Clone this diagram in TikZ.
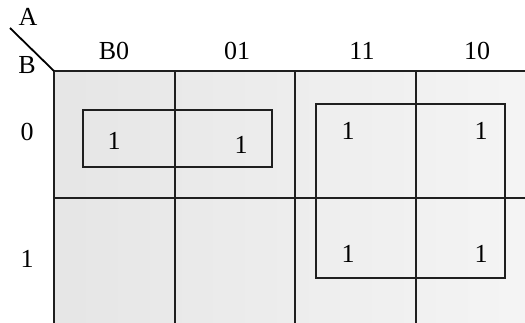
\documentclass[tikz,border=0pt]{standalone}
\usepackage{fontspec}
\setmainfont{Liberation Serif}
\begin{document}
\begin{tikzpicture}[x=1pt,y=-1pt,
  lbl/.style={inner sep=0pt,font=\fontsize{26}{29}\selectfont},
  gridline/.style={line width=2.2pt,black!88},
  grp/.style={line width=2.2pt,black!88}]
\clip (0,0) rectangle (525,322);
\useasboundingbox (0,0) rectangle (525,322);
\fill[white] (0,0) rectangle (525,322);
\shade[left color=black!10,right color=black!4] (54,71) rectangle (540,330);
% grid
\draw[gridline] (54,71) -- (540,71);
\draw[gridline] (54,198) -- (540,198);
\draw[gridline] (54,71) -- (54,330);
\draw[gridline] (175,71) -- (175,330);
\draw[gridline] (295,71) -- (295,330);
\draw[gridline] (416,71) -- (416,330);
% corner diagonal
\coordinate (d1) at (10,28);
\coordinate (d2) at (54,71);
\draw[line width=1.8pt] (d1) -- (d2);
\node[lbl] (A) at (28,17) {A};
\node[lbl] (B) at (27,65) {B};
% column labels
\node[lbl] (c1) at (114,51) {B0};
\node[lbl] (c2) at (237,51) {01};
\node[lbl] (c3) at (362,51) {11};
\node[lbl] (c4) at (477,51) {10};
% row labels
\node[lbl] (r0) at (27,132) {0};
\node[lbl] (r1) at (27,259) {1};
% ones
\node[lbl] (m1) at (114,141) {1};
\node[lbl] (m2) at (241,145) {1};
\node[lbl] (m3) at (348,131) {1};
\node[lbl] (m4) at (481,131) {1};
\node[lbl] (m5) at (348,254) {1};
\node[lbl] (m6) at (481,254) {1};
% groups
\draw[grp] (83,110) rectangle (272,167);
\draw[grp] (316,104) rectangle (505,278);
\end{tikzpicture}
\end{document}
